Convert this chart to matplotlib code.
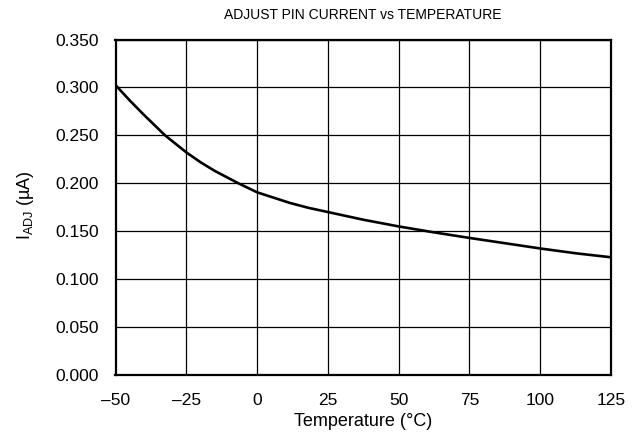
import matplotlib
matplotlib.use("Agg")
import matplotlib.pyplot as plt

plt.rcParams['font.family'] = ['Liberation Sans', 'DejaVu Sans']

# values
temperature = [-50, -45, -40, -32.5, -25, -20, -15, -6.6, 0, 5, 11.6, 18, 25, 37.5,
               50, 62.5, 75, 87.5, 100, 112.5, 125]
i_adj = [0.3025, 0.2865, 0.2715, 0.250, 0.2323, 0.222, 0.213, 0.200, 0.1906, 0.1858,
         0.1795, 0.1745, 0.170, 0.162, 0.155, 0.1488, 0.143, 0.1375, 0.132, 0.127, 0.1228]

x_ticks = [-50, -25, 0, 25, 50, 75, 100, 125]
x_tick_labels = ["\u201350", "\u201325", "0", "25", "50", "75", "100", "125"]
y_ticks = [0.0, 0.05, 0.1, 0.15, 0.2, 0.25, 0.3, 0.35]

fig = plt.figure(figsize=(6.44, 4.47), dpi=100)
ax = fig.add_axes([115.5 / 644, 1 - 375 / 447, (611 - 115.5) / 644, (375 - 39.5) / 447])

ax.plot(temperature, i_adj, color="black", lw=1.9, solid_joinstyle="round")

ax.set_xlim(-50, 125)
ax.set_ylim(0, 0.35)
ax.set_xticks(x_ticks)
ax.set_xticklabels(x_tick_labels)
ax.set_yticks(y_ticks)
ax.set_yticklabels(["%.3f" % v for v in y_ticks])
ax.grid(True, color="black", lw=0.9)
ax.tick_params(length=0, labelsize=12.5)
ax.tick_params(axis="y", pad=12)
ax.tick_params(axis="x", pad=13)
for s in ax.spines.values():
    s.set_linewidth(1.6)

ax.set_title("ADJUST PIN CURRENT vs TEMPERATURE", fontsize=10, pad=15)
ax.set_xlabel("Temperature (\u00b0C)", fontsize=13)
ax.set_ylabel("I$_{\\mathregular{ADJ}}$ (\u00b5A)", fontsize=13)
ax.xaxis.set_label_coords(0.5, -0.113)
ax.yaxis.set_label_coords(-0.160, 0.505)

fig.savefig("out.png", dpi=100)
